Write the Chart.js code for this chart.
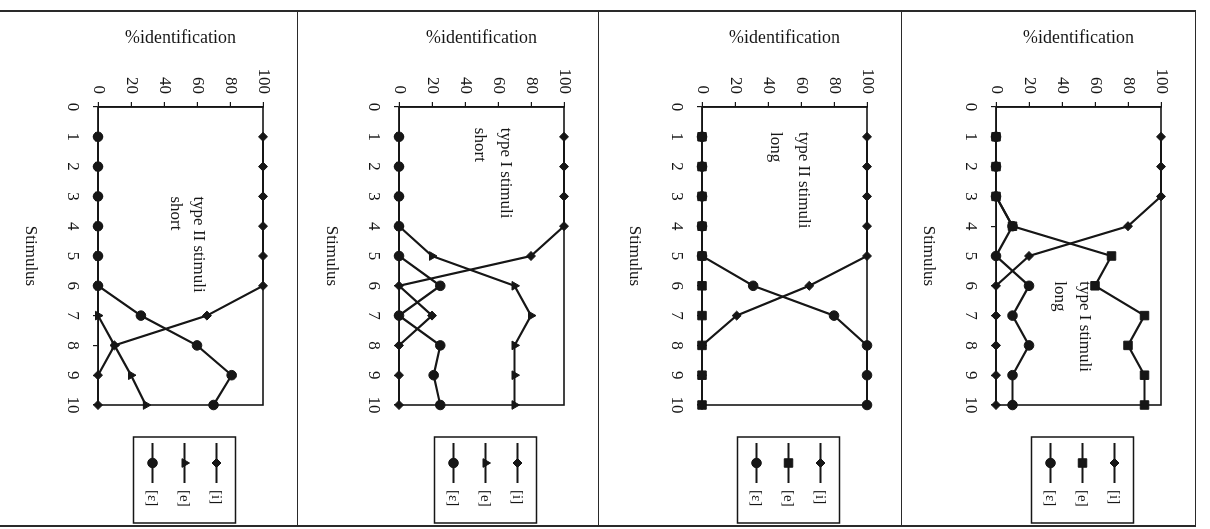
<!DOCTYPE html>
<html><head><meta charset="utf-8">
<script src="https://cdn.jsdelivr.net/npm/chart.js@4.4.1/dist/chart.umd.min.js"></script>
<style>
html,body{margin:0;padding:0;background:#fff;}
body{width:1210px;height:529px;position:relative;overflow:hidden;}
.panel{position:absolute;transform-origin:0 0;transform:rotate(90deg);}
.frame{position:absolute;background:#2a2a2a;}
</style></head><body>
<script>
// ---- data ----
const stimuli = [1,2,3,4,5,6,7,8,9,10];
const seriesNames = ['[i]','[e]','[ɛ]'];
const xTicks = [0,1,2,3,4,5,6,7,8,9,10];
const yTicks = [0,20,40,60,80,100];
const yTitle = '%identification';
const xTitle = 'Stimulus';

// panel 1: type II stimuli, short
const p1_i   = [100,100,100,100,100,100,66,10,0,0];
const p1_e   = [0,0,0,0,0,0,0,10,20,29];
const p1_eps = [0,0,0,0,0,0,26,60,81,70];
const p1_note = ['type II stimuli','short'];
// panel 2: type I stimuli, short
const p2_i   = [100,100,100,100,80,0,20,0,0,0];
const p2_e   = [0,0,0,0,20,70,80,70,70,70];
const p2_eps = [0,0,0,0,0,25,0,25,21,25];
const p2_note = ['type I stimuli','short'];
// panel 3: type II stimuli, long
const p3_i   = [100,100,100,100,100,65,21,0,0,0];
const p3_e   = [0,0,0,0,0,0,0,0,0,0];
const p3_eps = [0,0,0,0,0,31,80,100,100,100];
const p3_note = ['type II stimuli','long'];
// panel 4: type I stimuli, long
const p4_i   = [100,100,100,80,20,0,0,0,0,0];
const p4_e   = [0,0,0,10,70,60,90,80,90,90];
const p4_eps = [0,0,0,10,0,20,10,20,10,10];
const p4_note = ['type I stimuli','long'];

// ---- layout / style ----
const FONT = '"Liberation Serif", "Times New Roman", serif';
const INK = '#161616';
const TOP = 10, PH = 515;
const panels = [
  {x0:0,   x1:297,  d:[p1_i,p1_e,p1_eps], eStyle:'triangle', note:p1_note, noteAt:{x:3.0,  y:[58,44]}},
  {x0:297, x1:598,  d:[p2_i,p2_e,p2_eps], eStyle:'triangle', note:p2_note, noteAt:{x:0.7,  y:[62,46]}},
  {x0:598, x1:901,  d:[p3_i,p3_e,p3_eps], eStyle:'rect',     note:p3_note, noteAt:{x:0.84, y:[59,42]}},
  {x0:901, x1:1195, d:[p4_i,p4_e,p4_eps], eStyle:'rect',     note:p4_note, noteAt:{x:5.85, y:[51,36]}}
];

function addFrame(l,t,w,h){const f=document.createElement('div');f.className='frame';
  f.style.left=l+'px';f.style.top=t+'px';f.style.width=w+'px';f.style.height=h+'px';document.body.appendChild(f);}
addFrame(0,TOP,1196,1.5);
addFrame(0,TOP+PH,1196,1.5);
[297,598,901,1195].forEach(x=>addFrame(x-0.5,TOP,1.5,PH+1));

const boxPlugin = {
  id:'boxPlugin',
  beforeDatasetsDraw(chart){
    const {ctx, chartArea:ca} = chart;
    ctx.save(); ctx.strokeStyle=INK; ctx.lineWidth=1.6;
    ctx.strokeRect(ca.left, ca.top, ca.right-ca.left, ca.bottom-ca.top);
    ctx.restore();
  },
  afterDraw(chart, args, opts){
    const {ctx, chartArea:ca} = chart;
    const xs = chart.scales.x, ys = chart.scales.y;
    ctx.save();
    ctx.fillStyle = INK; ctx.font = '17px '+FONT; ctx.textAlign='left'; ctx.textBaseline='alphabetic';
    opts.note.forEach((t,k)=>ctx.fillText(t, xs.getPixelForValue(opts.noteAt.x), ys.getPixelForValue(opts.noteAt.y[k])));
    // legend box
    const cy = (ca.top+ca.bottom)/2 - 4, gap = 32;
    ctx.strokeStyle = INK; ctx.lineWidth = 1.5;
    ctx.strokeRect(ca.right+32, cy-51, 86, 102);
    chart.data.datasets.forEach((ds,k)=>{
      const y = cy + (k-1)*gap;
      ctx.beginPath(); ctx.lineWidth = 2; ctx.strokeStyle = INK;
      ctx.moveTo(ca.right+38, y); ctx.lineTo(ca.right+78, y); ctx.stroke();
      ctx.fillStyle = INK; ctx.lineWidth = 1;
      Chart.helpers.drawPoint(ctx, {pointStyle:ds.pointStyle, radius:ds.pointRadius, rotation:0, borderWidth:1}, ca.right+58, y);
      ctx.fillStyle = INK; ctx.font = '15px '+FONT; ctx.textBaseline='middle';
      ctx.fillText(ds.label, ca.right+85, y+1);
    });
    ctx.restore();
  }
};

panels.forEach((p)=>{
  const H = p.x1 - p.x0;
  const div = document.createElement('div');
  div.className='panel';
  div.style.left = p.x1+'px'; div.style.top = TOP+'px';
  div.style.width = PH+'px'; div.style.height = H+'px';
  const cv = document.createElement('canvas');
  cv.width = PH; cv.height = H; cv.style.width=PH+'px'; cv.style.height=H+'px';
  div.appendChild(cv); document.body.appendChild(div);

  const styles = ['rectRot', p.eStyle, 'circle'];
  const radii = [4.5, p.eStyle==='rect'?6:5, 4.8];
  const datasets = p.d.map((arr,k)=>({
    label: seriesNames[k],
    data: stimuli.map((s,i)=>({x:s, y:arr[i]})),
    borderColor: INK, backgroundColor: INK,
    pointBackgroundColor: INK, pointBorderColor: INK,
    borderWidth: 2.2, pointStyle: styles[k], pointRadius: radii[k], pointBorderWidth: 1,
    tension: 0, clip: false
  }));
  const tickFont = {family: FONT, size: 17};
  new Chart(cv, {
    type:'line',
    data:{datasets},
    options:{
      responsive:false, animation:false, devicePixelRatio:1,
      layout:{padding:{top:34, left:0, right:PH-395, bottom:H-279}},
      plugins:{legend:{display:false}, tooltip:{enabled:false},
        boxPlugin:{note:p.note, noteAt:p.noteAt}},
      scales:{
        x:{type:'linear', min:0, max:10,
          afterFit(s){s.height=80;},
          afterBuildTicks(s){s.ticks = xTicks.map(v=>({value:v}));},
          ticks:{font:tickFont, color:INK, padding:10},
          grid:{display:true, drawOnChartArea:false, drawTicks:true, tickLength:5, color:INK, lineWidth:1.2},
          border:{display:true, color:INK, width:1.6},
          title:{display:true, text:xTitle, color:INK, font:{family:FONT, size:17}, padding:{top:0,bottom:2}}
        },
        y:{type:'linear', min:0, max:100,
          afterFit(s){s.width=97;},
          afterBuildTicks(s){s.ticks = yTicks.map(v=>({value:v}));},
          ticks:{font:tickFont, color:INK, padding:8},
          grid:{display:true, drawOnChartArea:false, drawTicks:true, tickLength:5, color:INK, lineWidth:1.2},
          border:{display:true, color:INK, width:1.6},
          title:{display:true, text:yTitle, color:INK, font:{family:FONT, size:18}, padding:{top:17,bottom:0}}
        }
      }
    },
    plugins:[boxPlugin]
  });
});
</script>
</body></html>
